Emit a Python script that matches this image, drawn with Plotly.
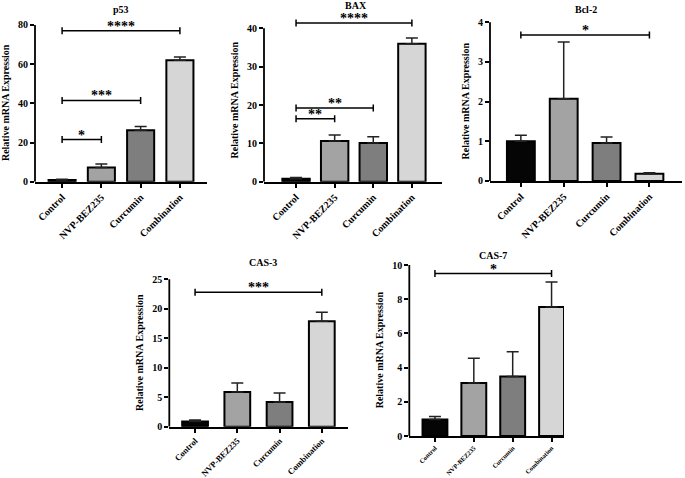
import plotly.graph_objects as go

W, H = 685, 478
categories = ["Control", "NVP-BEZ235", "Curcumin", "Combination"]
bar_colors = ["#050505", "#a3a3a3", "#7e7e7e", "#d6d6d6"]

# values (mean) and upper error (SD)
p53_vals = [0.9, 7.2, 26.3, 62.0]
p53_err = [0.4, 1.8, 1.9, 1.6]
bax_vals = [0.8, 10.6, 10.1, 36.0]
bax_err = [0.3, 1.6, 1.6, 1.5]
bcl2_vals = [1.0, 2.07, 0.96, 0.18]
bcl2_err = [0.15, 1.43, 0.15, 0.03]
cas3_vals = [0.9, 5.9, 4.2, 17.9]
cas3_err = [0.25, 1.5, 1.5, 1.5]
cas7_vals = [0.97, 3.1, 3.48, 7.55]
cas7_err = [0.17, 1.45, 1.45, 1.45]

# significance brackets: (from index, to index, height, label)
p53_sig = [(0, 1, 21.5, "*"), (0, 2, 41.5, "***"), (0, 3, 77, "****")]
bax_sig = [(0, 1, 16.4, "**"), (0, 2, 19.2, "**"), (0, 3, 41.4, "****")]
bcl2_sig = [(0, 3, 3.68, "*")]
cas3_sig = [(0, 3, 22.8, "***")]
cas7_sig = [(0, 3, 9.5, "*")]

p53_ticks = [0, 20, 40, 60, 80]
bax_ticks = [0, 10, 20, 30, 40]
bcl2_ticks = [0, 1, 2, 3, 4]
cas3_ticks = [0, 5, 10, 15, 20, 25]
cas7_ticks = [0, 2, 4, 6, 8, 10]

titles = ["p53", "BAX", "Bcl-2", "CAS-3", "CAS-7"]

panels = [
    dict(vals=p53_vals, err=p53_err, sig=p53_sig, ticks=p53_ticks, xa=35, xb=207, xr=[-0.69, 3.69],
         y0=181.7, ppu=1.959, ytop=80.5, tpos=(121, 9), bw=0.69, xfs=10),
    dict(vals=bax_vals, err=bax_err, sig=bax_sig, ticks=bax_ticks, xa=264, xb=442, xr=[-0.83, 3.78],
         y0=181.7, ppu=3.835, ytop=42.5, tpos=(356, 5), bw=0.71, xfs=10),
    dict(vals=bcl2_vals, err=bcl2_err, sig=bcl2_sig, ticks=bcl2_ticks, xa=490, xb=682, xr=[-0.72, 3.76],
         y0=181, ppu=39.7, ytop=4.02, tpos=(586, 9), bw=0.65, xfs=10),
    dict(vals=cas3_vals, err=cas3_err, sig=cas3_sig, ticks=cas3_ticks, xa=169.3, xb=348, xr=[-0.61, 3.62],
         y0=426.7, ppu=5.896, ytop=25.1, tpos=(263, 262), bw=0.61, xfs=8.5),
    dict(vals=cas7_vals, err=cas7_err, sig=cas7_sig, ticks=cas7_ticks, xa=409.3, xb=564, xr=[-0.66, 3.32],
         y0=436, ppu=17.1, ytop=10.05, tpos=(493, 255), bw=0.64, xfs=6.5),
]

FONT = "'Liberation Serif', 'Times New Roman', Times, serif"
fig = go.Figure()
shapes = []
annotations = []
layout = {}

for i, p in enumerate(panels):
    n = "" if i == 0 else str(i + 1)
    xr_, yr_ = "x" + n, "y" + n
    fig.add_trace(go.Bar(
        x=categories, y=p["vals"], xaxis=xr_, yaxis=yr_, width=p["bw"],
        marker=dict(color=bar_colors, line=dict(color="black", width=2)),
        error_y=dict(type="data", symmetric=False, array=p["err"], arrayminus=[0] * 4,
                     color="#222", thickness=1.5, width=6),
        showlegend=False,
    ))
    ybot = 1 - p["y0"] / H
    ytopd = 1 - (p["y0"] - p["ytop"] * p["ppu"]) / H
    layout["xaxis" + n] = dict(
        domain=[p["xa"] / W, p["xb"] / W], anchor=yr_, range=p["xr"], type="category",
        showline=True, linecolor="black", linewidth=1.8, ticks="outside", ticklen=4,
        tickcolor="black", tickwidth=1.5, tickangle=-45, automargin=False,
        tickfont=dict(family=FONT, size=p["xfs"], color="black", weight="bold"),
        showgrid=False, zeroline=False, fixedrange=True,
    )
    layout["yaxis" + n] = dict(
        domain=[ybot, ytopd], anchor=xr_, range=[0, p["ytop"]], tickvals=p["ticks"],
        showline=False, ticks="outside", ticklen=4, tickcolor="black", tickwidth=1.5,
        tickfont=dict(family=FONT, size=10, color="black", weight="bold"),
        showgrid=False, zeroline=False, automargin=False,
        title=dict(text="Relative mRNA Expression", standoff=6,
                   font=dict(family=FONT, size=10, color="black", weight="bold")),
    )
    shapes.append(dict(type="line", xref=xr_ + " domain", yref=yr_, x0=0, x1=0,
                       y0=0, y1=max(p["ticks"]), line=dict(color="black", width=1.8)))
    for (a, b, h, lab) in p["sig"]:
        shapes.append(dict(type="line", xref=xr_, yref=yr_, x0=a, x1=b, y0=h, y1=h,
                           line=dict(color="black", width=1.5)))
        for e in (a, b):
            shapes.append(dict(type="line", xref=xr_, yref=yr_, x0=e, x1=e,
                               ysizemode="pixel", yanchor=h, y0=-3.5, y1=3.5,
                               line=dict(color="black", width=1.5)))
        annotations.append(dict(xref=xr_, yref=yr_, x=(a + b) / 2, y=h, text=lab,
                                showarrow=False, yanchor="bottom", yshift=-5,
                                font=dict(family=FONT, size=14, color="black", weight="bold")))
    tx, ty = p["tpos"]
    annotations.append(dict(xref="paper", yref="paper", x=tx / W, y=1 - ty / H, text=titles[i],
                            showarrow=False, xanchor="center", yanchor="middle",
                            font=dict(family=FONT, size=10, color="black", weight="bold")))

fig.update_layout(
    width=W, height=H, margin=dict(l=0, r=0, t=0, b=0, autoexpand=False),
    paper_bgcolor="white", plot_bgcolor="white",
    shapes=shapes, annotations=annotations, bargap=0.3,
    **layout,
)
fig.write_html("out.html", config={"displayModeBar": False},
               post_script="document.body.style.margin='0';document.body.style.overflow='hidden';")
